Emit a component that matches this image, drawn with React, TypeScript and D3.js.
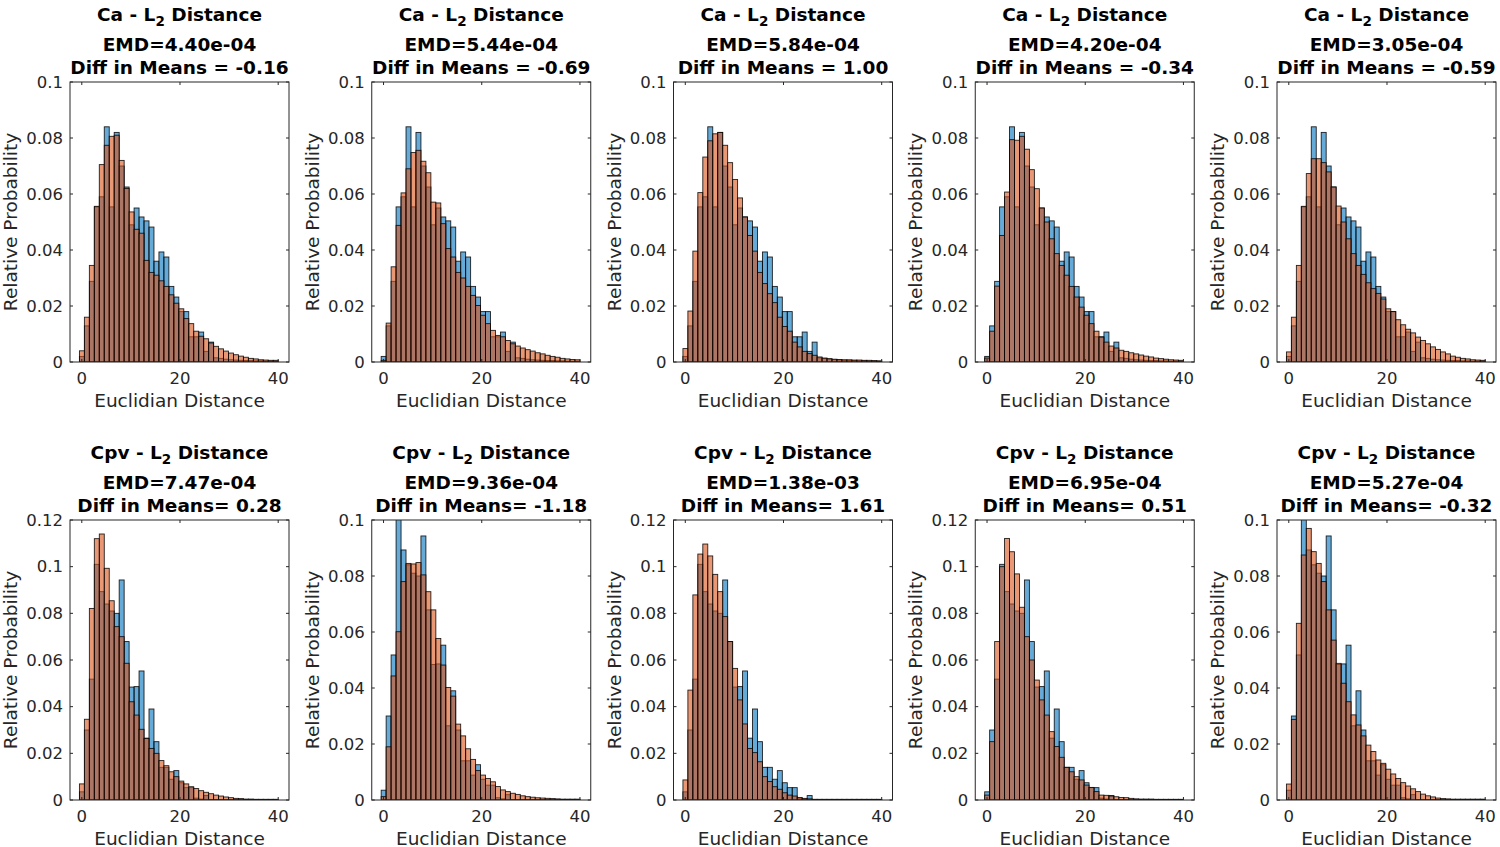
import React from "react";
import * as d3 from "d3";

// ---------- data ----------
const X_TICKS = [0, 20, 40];
const BIN_START = -0.48;
const BIN_WIDTH = 1.012;
const X_DOMAIN: [number, number] = [-2.4, 42.2];

const rowNames = ["Ca", "Cpv"];
const caEMD = ["4.40e-04", "5.44e-04", "5.84e-04", "4.20e-04", "3.05e-04"];
const caDiff = ["-0.16", "-0.69", "1.00", "-0.34", "-0.59"];
const cpvEMD = ["7.47e-04", "9.36e-04", "1.38e-03", "6.95e-04", "5.27e-04"];
const cpvDiff = ["0.28", "-1.18", "1.61", "0.51", "-0.32"];
const caYMax = [0.1, 0.1, 0.1, 0.1, 0.1];
const cpvYMax = [0.12, 0.1, 0.12, 0.12, 0.1];

const caBlue = [
  0.002, 0.0129, 0.0288, 0.0554, 0.059, 0.084, 0.0554, 0.082, 0.07, 0.0625,
  0.049, 0.055, 0.0518, 0.0504, 0.0482, 0.036, 0.0393, 0.0375, 0.027, 0.0232,
  0.018, 0.018, 0.009, 0.009, 0.0107, 0.0038, 0.0071, 0.0015, 0.0013, 0.001,
  0.0008, 0.0007, 0.0006, 0.0005, 0.0005, 0.0004, 0.0004, 0.0003, 0.0003, 0.0003,
];
const caOrange1 = [
  0.004, 0.016, 0.0345, 0.0556, 0.0705, 0.0774, 0.0806, 0.081, 0.072, 0.062,
  0.0536, 0.0474, 0.046, 0.0363, 0.032, 0.031, 0.029, 0.027, 0.024, 0.021,
  0.019, 0.0155, 0.0137, 0.011, 0.0092, 0.0083, 0.0068, 0.0056, 0.0047, 0.0039,
  0.0032, 0.0026, 0.0021, 0.0017, 0.0013, 0.0011, 0.0008, 0.0007, 0.0006, 0.0006,
];
const caOrange2 = [
  0.0006, 0.0139, 0.034, 0.0488, 0.0604, 0.069, 0.0748, 0.0756, 0.0717, 0.0676,
  0.0571, 0.0568, 0.0494, 0.0405, 0.0375, 0.032, 0.03, 0.027, 0.0238, 0.0202,
  0.0167, 0.0137, 0.0113, 0.0095, 0.009, 0.0077, 0.0065, 0.0057, 0.005, 0.0044,
  0.0039, 0.0033, 0.0029, 0.0024, 0.002, 0.0017, 0.0013, 0.0011, 0.0009, 0.0008,
];
const caOrange3 = [
  0.0048, 0.0182, 0.0396, 0.0605, 0.0732, 0.079, 0.0815, 0.082, 0.0774, 0.0712,
  0.0652, 0.0586, 0.0518, 0.0452, 0.0396, 0.032, 0.028, 0.0244, 0.0212, 0.016,
  0.0127, 0.011, 0.0071, 0.0054, 0.0038, 0.003, 0.0024, 0.0018, 0.0014, 0.0012,
  0.001, 0.0009, 0.0008, 0.0008, 0.0007, 0.0007, 0.0006, 0.0006, 0.0005, 0.0004,
];
const caOrange4 = [
  0.0014, 0.011, 0.0271, 0.0452, 0.0607, 0.0794, 0.0792, 0.0806, 0.076, 0.0687,
  0.0619, 0.055, 0.05, 0.044, 0.0387, 0.0345, 0.031, 0.027, 0.0232, 0.0196,
  0.0167, 0.0137, 0.011, 0.0089, 0.0071, 0.0057, 0.005, 0.0042, 0.0038, 0.0033,
  0.0029, 0.0025, 0.0021, 0.0018, 0.0014, 0.0012, 0.001, 0.0008, 0.0007, 0.0006,
];
const caOrange5 = [
  0.0036, 0.016, 0.0345, 0.0556, 0.0673, 0.0726, 0.0726, 0.0712, 0.0679, 0.0625,
  0.0557, 0.05, 0.044, 0.0387, 0.0345, 0.0313, 0.0283, 0.0262, 0.0245, 0.0225,
  0.019, 0.018, 0.0151, 0.0133, 0.0117, 0.0104, 0.0089, 0.0077, 0.0065, 0.0054,
  0.0045, 0.0036, 0.0029, 0.0021, 0.0017, 0.0013, 0.0011, 0.0008, 0.0007, 0.0006,
];

const cpvBlue = [
  0.0035, 0.03, 0.0518, 0.101, 0.0893, 0.084, 0.081, 0.08, 0.0943, 0.0679,
  0.0484, 0.0486, 0.0553, 0.0265, 0.039, 0.025, 0.014, 0.014, 0.0089, 0.0126,
  0.0074, 0.0053, 0.0053, 0.0008, 0.0004, 0.0019, 0.0002, 0.0002, 0.0002, 0.0002,
  0.0002, 0.0002, 0.0002, 0.0002, 0.0002, 0.0002, 0.0002, 0.0002, 0.0002, 0.0002,
];
const cpvOrange1 = [
  0.0069, 0.0346, 0.0821, 0.112, 0.114, 0.0993, 0.0854, 0.0743, 0.07, 0.0586,
  0.0421, 0.0364, 0.0303, 0.0264, 0.0221, 0.02, 0.0169, 0.0147, 0.0121, 0.01,
  0.0081, 0.0069, 0.0057, 0.0049, 0.004, 0.0033, 0.0027, 0.0021, 0.0017, 0.0013,
  0.001, 0.0007, 0.0006, 0.0004, 0.0004, 0.0003, 0.0003, 0.0003, 0.0003, 0.0003,
];
const cpvOrange2 = [
  0.0012, 0.019, 0.0443, 0.0601, 0.078, 0.0845, 0.0843, 0.0848, 0.0804, 0.0744,
  0.0679, 0.0577, 0.0482, 0.0402, 0.0371, 0.0271, 0.0229, 0.0183, 0.0145, 0.0105,
  0.0089, 0.0077, 0.0065, 0.0048, 0.0036, 0.003, 0.0024, 0.002, 0.0015, 0.0012,
  0.001, 0.0008, 0.0007, 0.0006, 0.0005, 0.0004, 0.0003, 0.0003, 0.0003, 0.0003,
];
const cpvOrange3 = [
  0.0086, 0.0471, 0.0879, 0.1054, 0.1097, 0.1046, 0.0967, 0.0893, 0.0786, 0.0679,
  0.0564, 0.0429, 0.0326, 0.0221, 0.0203, 0.0164, 0.01, 0.0079, 0.0057, 0.0046,
  0.0031, 0.0021, 0.0017, 0.0011, 0.0007, 0.0005, 0.0003, 0.0003, 0.0003, 0.0003,
  0.0003, 0.0003, 0.0003, 0.0003, 0.0003, 0.0003, 0.0003, 0.0003, 0.0003, 0.0003,
];
const cpvOrange4 = [
  0.0021, 0.025, 0.0679, 0.1, 0.1121, 0.1064, 0.0969, 0.0826, 0.07, 0.06,
  0.0514, 0.0429, 0.0364, 0.0293, 0.0229, 0.0183, 0.014, 0.0121, 0.01, 0.0086,
  0.0064, 0.0054, 0.0036, 0.0021, 0.002, 0.0017, 0.0014, 0.0011, 0.001, 0.0007,
  0.0005, 0.0004, 0.0004, 0.0004, 0.0003, 0.0003, 0.0003, 0.0003, 0.0003, 0.0003,
];
const cpvOrange5 = [
  0.0057, 0.0288, 0.0631, 0.0875, 0.097, 0.0887, 0.0845, 0.078, 0.0679, 0.0571,
  0.0488, 0.0417, 0.0351, 0.0304, 0.0268, 0.0229, 0.0196, 0.0173, 0.0143, 0.0131,
  0.011, 0.0093, 0.0077, 0.0062, 0.005, 0.004, 0.003, 0.0021, 0.0015, 0.0011,
  0.0007, 0.0005, 0.0004, 0.0003, 0.0003, 0.0003, 0.0003, 0.0003, 0.0003, 0.0003,
];

const caOrange = [caOrange1, caOrange2, caOrange3, caOrange4, caOrange5];
const cpvOrange = [cpvOrange1, cpvOrange2, cpvOrange3, cpvOrange4, cpvOrange5];

// ---------- layout ----------
const PANEL_LEFT0 = 70;
const PANEL_STEP = 301.75;
const PANEL_W = 219;
const PANEL_H = 280;
const ROW_TOPS = [82, 520];
const FONT = "'DejaVu Sans', Verdana, sans-serif";
const BLUE = "#0072BD";
const ORANGE = "#D95319";
const AXIS = "#262626";

type PanelProps = {
  id: string;
  left: number;
  top: number;
  blue: number[];
  orange: number[];
  ymax: number;
  name: string;
  emd: string;
  diff: string;
  sep: string;
};

function fmtTick(v: number) {
  if (Math.abs(v) < 1e-9) return "0";
  return String(+v.toFixed(2));
}

function Panel(p: PanelProps) {
  const x = d3.scaleLinear().domain(X_DOMAIN).range([0, PANEL_W]);
  const y = d3.scaleLinear().domain([0, p.ymax]).range([PANEL_H, 0]);
  const yTicks = d3.range(0, p.ymax + 1e-9, 0.02);
  const bw = x(BIN_WIDTH) - x(0);
  const tl = 3;
  const bars = (vals: number[], color: string, key: string) =>
    vals.map((v, i) => (
      <rect
        key={key + i}
        x={x(BIN_START + i * BIN_WIDTH)}
        y={y(v)}
        width={bw}
        height={PANEL_H - y(v)}
        fill={color}
        fillOpacity={0.6}
        stroke="#000"
        strokeOpacity={0.85}
        strokeWidth={0.9}
      />
    ));
  const cx = PANEL_W / 2;
  return (
    <g transform={`translate(${p.left},${p.top})`}>
      <defs>
        <clipPath id={p.id}>
          <rect x={0} y={0} width={PANEL_W} height={PANEL_H} />
        </clipPath>
      </defs>
      <rect x={0} y={0} width={PANEL_W} height={PANEL_H} fill="#fff" />
      <g clipPath={`url(#${p.id})`}>
        {bars(p.blue, BLUE, "b")}
        {bars(p.orange, ORANGE, "o")}
      </g>
      <rect x={0} y={0} width={PANEL_W} height={PANEL_H} fill="none" stroke={AXIS} strokeWidth={1} />
      {X_TICKS.map((t) => (
        <g key={"xt" + t}>
          <line x1={x(t)} x2={x(t)} y1={PANEL_H} y2={PANEL_H - tl} stroke={AXIS} />
          <line x1={x(t)} x2={x(t)} y1={0} y2={tl} stroke={AXIS} />
          <text x={x(t)} y={PANEL_H + 22} textAnchor="middle" fontSize={16.5} fill={AXIS} fontFamily={FONT}>
            {t}
          </text>
        </g>
      ))}
      {yTicks.map((t) => (
        <g key={"yt" + t}>
          <line x1={0} x2={tl} y1={y(t)} y2={y(t)} stroke={AXIS} />
          <line x1={PANEL_W} x2={PANEL_W - tl} y1={y(t)} y2={y(t)} stroke={AXIS} />
          <text x={-7} y={y(t) + 5.5} textAnchor="end" fontSize={16.5} fill={AXIS} fontFamily={FONT}>
            {fmtTick(t)}
          </text>
        </g>
      ))}
      <text x={cx} y={PANEL_H + 45} textAnchor="middle" fontSize={18.5} fill={AXIS} fontFamily={FONT}>
        Euclidian Distance
      </text>
      <text
        transform={`translate(${-53},${PANEL_H / 2}) rotate(-90)`}
        textAnchor="middle"
        fontSize={18.5}
        fill={AXIS}
        fontFamily={FONT}
      >
        Relative Probability
      </text>
      <g fontFamily={FONT} fontWeight="bold" fontSize={18.5} fill="#000" textAnchor="middle">
        <text x={cx} y={-61}>
          {p.name + " - L"}
          <tspan fontSize={13.5} dy={5}>2</tspan>
          <tspan dy={-5}>{" Distance"}</tspan>
        </text>
        <text x={cx} y={-31}>{"EMD=" + p.emd}</text>
        <text x={cx} y={-8}>{"Diff in Means" + p.sep + p.diff}</text>
      </g>
    </g>
  );
}

export default function App() {
  const rows = [
    { name: rowNames[0], emd: caEMD, diff: caDiff, ymax: caYMax, blue: caBlue, orange: caOrange, sep: " = " },
    { name: rowNames[1], emd: cpvEMD, diff: cpvDiff, ymax: cpvYMax, blue: cpvBlue, orange: cpvOrange, sep: "= " },
  ];
  return (
    <svg
      width={1500}
      height={847}
      style={{ position: "absolute", left: 0, top: 0, background: "#fff" }}
    >
      <rect x={0} y={0} width={1500} height={847} fill="#fff" />
      {rows.map((r, ri) =>
        r.orange.map((o, i) => (
          <Panel
            key={ri + "-" + i}
            id={`clip-${ri}-${i}`}
            left={PANEL_LEFT0 + i * PANEL_STEP}
            top={ROW_TOPS[ri]}
            blue={r.blue}
            orange={o}
            ymax={r.ymax[i]}
            name={r.name}
            emd={r.emd[i]}
            diff={r.diff[i]}
            sep={r.sep}
          />
        ))
      )}
    </svg>
  );
}
